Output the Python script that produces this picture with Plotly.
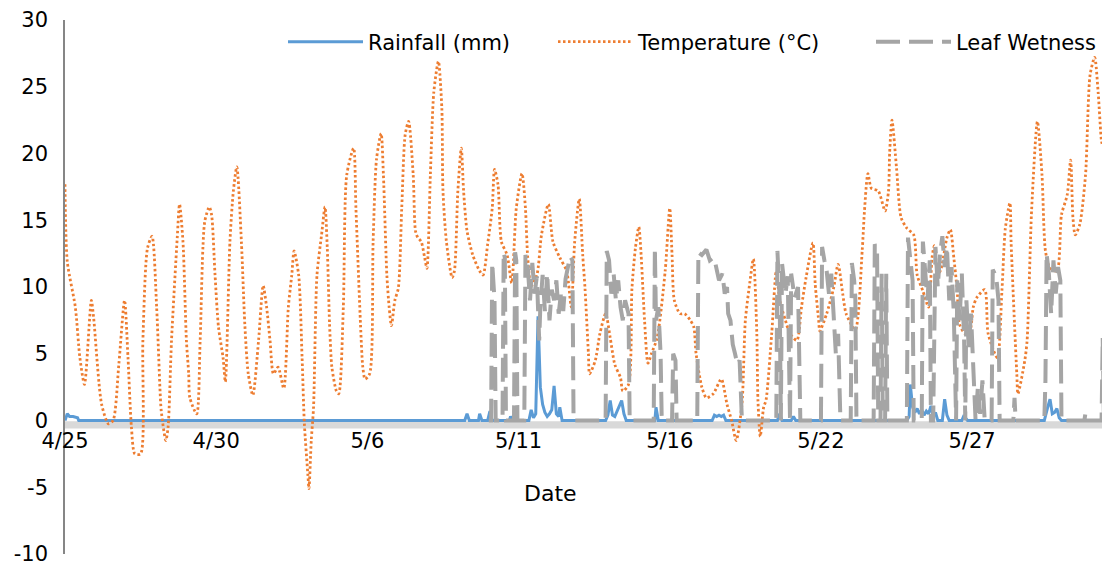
import plotly.graph_objects as go

# ---------------- data (x = hours since 4/25 00:00) ----------------
tick_hours = [0, 132, 264, 396, 528, 660, 792]
tick_labels = ["4/25", "4/30", "5/6", "5/11", "5/16", "5/22", "5/27"]
y_ticks = [-10, -5, 0, 5, 10, 15, 20, 25, 30]
y_tick_labels = ["-10", "-5", "0", "5", "10", "15", "20", "25", "30"]

temp_hours = [0,2,9,13,17,23,25,32,38,42,47,52,55,58,61,66,68,72,76,80,83,84,88,90,93,98,100,103,106,108,109,115,118,122,126,128,131,134,138,140,144,147,150,154,157,160,164,169,173,176,179,182,186,191,195,198,200,204,207,209,212,213,215,217,220,224,227,229,231,233,237,239,243,246,252,254,258,260,262,266,269,272,276,278,281,283,285,288,291,294,297,300,304,306,308,311,314,316,319,322,326,329,330,333,338,340,343,346,348,351,356,362,365,369,373,375,378,381,386,390,394,399,402,404,407,412,416,422,426,432,438,442,445,449,452,454,457,458,463,467,472,476,480,485,487,492,495,498,501,503,506,509,512,517,524,528,530,532,537,541,546,549,551,556,560,566,573,578,582,586,591,594,598,601,604,605,607,610,612,617,621,624,629,633,639,643,647,653,655,658,659,665,671,675,679,682,690,696,698,701,704,710,716,719,720,722,726,730,735,741,744,749,754,757,759,762,765,770,773,776,779,781,786,790,793,796,803,806,814,818,821,825,826,829,831,832,838,840,844,849,853,856,860,866,870,875,878,880,882,886,891,895,899,902,905,906]
temp_values = [17.7,11.9,8.5,4.7,2.7,9.0,7.7,1.2,-0.25,0,4.2,9.0,4.7,-0.5,-2.5,-2.5,6.0,12.9,13.8,8.5,2.2,0.75,-1.5,-0.5,6.0,13.7,16.2,13.4,6.0,3.5,1.7,0.5,6.0,14.9,16.0,15.4,10.9,7.0,4.7,2.9,13.4,17.2,19.0,13.4,7.2,3.5,1.9,6.0,10.1,8.5,6.0,3.5,4.0,2.4,8.5,10.9,12.7,10.9,4.7,-0.25,-4.0,-5.1,-1.5,1.0,10.9,13.9,16.0,12.9,7.2,4.0,2.2,2.0,8.5,18.4,20.4,15.9,7.2,4.0,3.1,3.5,13.4,19.6,21.5,18.4,10.9,8.5,7.1,9.0,9.9,15.9,21.4,22.4,18.4,14.2,13.7,13.4,12.2,11.4,18.4,24.6,26.9,23.4,17.2,13.4,10.7,11.2,17.2,20.4,17.2,14.2,12.4,11.2,10.9,13.2,15.9,18.8,17.7,13.4,12.4,10.3,15.9,18.5,15.9,12.2,10.1,10.9,13.9,16.2,13.4,12.2,11.2,8.5,13.4,16.6,12.4,9.9,5.0,3.5,4.5,6.5,8.0,6.2,4.2,3.2,2.2,2.7,9.9,12.9,14.5,12.4,7.5,4.3,5.0,6.2,11.2,15.9,12.4,9.0,8.0,8.0,7.5,7.0,5.0,2.5,1.7,2.0,3.1,1.2,0,-1.5,1.2,7.5,10.4,12.1,6.5,1.5,-1.2,1.0,1.5,6.5,11.2,9.0,7.5,6.5,6.0,8.5,10.7,13.3,10.2,7.5,6.7,8.0,9.9,11.7,9.5,8.0,6.8,12.7,15.7,18.5,17.4,17.2,15.7,17.2,20.1,22.5,18.9,15.2,14.4,13.9,10.9,9.7,8.5,12.2,13.1,10.9,11.4,13.7,14.3,12.2,9.7,7.2,6.5,6.7,8.5,9.2,9.8,6.5,4.7,9.7,14.4,16.3,13.4,7.2,3.5,2.0,4.5,6.0,15.9,22.4,18.4,12.7,11.4,11.2,15.4,16.9,19.5,15.2,13.9,14.7,18.4,25.9,27.2,24.6,20.9,20.6]

rain_hours = [0,2,4,7,11,12,349,351,353,361,362,364,369,371,373,388,389,391,
              405,407,409,411,413,415,417,419,421,423,425,427,429,431,432,434,
              472,474,476,478,480,482,484,486,488,490,515,516,518,
              565,567,569,571,573,575,577,622,624,626,634,636,638,
              735,737,738,740,742,744,746,748,750,752,754,756,758,760,762,
              766,768,770,772,783,785,786,788,
              855,858,860,862,864,866,868,870,908]
rain_values = [0,0.5,0.3,0.3,0.2,0,0,0.5,0,0,0.5,0,0,0.7,0,0,0.3,0,
               0,0.8,0.2,0.5,7.8,2.5,1.2,0.6,0.3,0.5,0.8,2.6,0.5,0.3,1.0,0,
               0,0.4,1.5,0.4,0.3,0.7,1.0,1.5,0.5,0,0,1.0,0,
               0,0.4,0.3,0.4,0.3,0.4,0,0,0.5,0,0,0.3,0,
               0,0.3,2.7,1.0,0.6,0.9,0.5,0.8,0.4,0.7,0.5,1.1,0.3,0.6,0,
               0,1.6,0.4,0,0,0.4,0.2,0,
               0,1.0,1.6,0.5,0.6,0.9,0.2,0,0]

wet_hours = [370,372,373,375,376,382,383,384,385,392,393,394,395,401,402,404,406,408,410,412,414,415,417,419,421,423,425,427,429,431,433,435,437,439,441,443,444,
             472,473,475,477,479,481,483,485,487,489,492,493,
             514,515,516,518,520,521,530,531,533,534,
             552,553,556,560,563,566,568,571,574,576,578,579,581,583,585,587,589,591,
             621,622,624,625,626,629,631,633,634,637,640,642,
             660,661,663,665,667,669,671,673,675,676,677,
             686,687,689,690,691,
             706,707,709,710,712,713,714,716,717,718,
             735,736,738,740,741,748,749,751,753,755,756,758,760,762,764,766,768,770,772,774,776,778,779,781,783,785,786,787,789,791,793,795,797,799,801,803,
             809,810,813,815,816,828,829,830,
             855,856,857,859,861,863,865,867,869,870,
             890,891,892,905,906,907]
wet_values = [0,0,11.8,9.0,0,0,12.6,12.2,0,0,12.6,12.0,0,0,12.4,11.5,9.0,11.8,9.5,10.8,6.0,8.5,10.9,8.2,11.0,7.5,9.8,9.0,10.5,8.0,9.5,8.2,10.6,11.5,12.3,12.0,0,
              0,12.7,12.0,9.5,11.0,9.0,10.5,8.5,7.5,9.0,8.0,0,
              0,12.9,7.5,8.5,5.0,0,0,5.0,4.5,0,
              0,12.6,12.4,12.8,12.0,12.2,11.7,10.5,11.0,9.5,10.0,8.0,7.5,5.7,5.0,4.2,4.5,0,
              0,12.7,9.0,0,11.8,9.5,10.8,0,11.0,9.2,10.0,0,
              0,13.0,12.0,11.2,9.5,11.0,8.0,5.0,6.5,3.7,0,
              0,11.8,10.5,9.2,0,
              0,13.2,12.8,0,0,11.0,0,0,11.0,0,
              0,13.7,12.0,10.5,0,0,13.4,11.0,9.0,12.0,0,0,13.0,10.0,12.5,13.8,11.5,13.0,9.0,11.5,8.0,0,10.5,7.5,11.0,6.0,0,9.0,5.5,8.0,4.5,0,2.5,0.5,3.0,0,
              0,11.3,10.8,9.0,0,0,1.7,0,
              0,3.0,12.5,11.0,8.0,12.0,9.5,11.5,10.5,0,
              0,0.6,0,0,6.2,0.5]

FONT = "DejaVu Sans"
OFF = 8  # default page margin of the html body
FIG_W, FIG_H = 1110 - OFF, 569 - OFF
PLOT_L, PLOT_W, PLOT_T, PLOT_H = 65 - OFF, 1040, 20 - OFF, 534


def px_to_paper_x(px):
    return (px - OFF - PLOT_L) / PLOT_W


def px_to_paper_y(py):
    return (PLOT_T + PLOT_H - (py - OFF)) / PLOT_H


fig = go.Figure()
fig.add_trace(go.Scatter(x=rain_hours, y=rain_values, mode="lines", name="Rainfall (mm)",
                         legend="legend",
                         line=dict(color="#5b9bd5", width=3)))
fig.add_trace(go.Scatter(x=temp_hours, y=temp_values, mode="lines", name="Temperature (°C)",
                         legend="legend2",
                         line=dict(color="#ed7d31", width=2.8, dash="2.5px,2.5px",
                                   shape="spline", smoothing=0.7)))
fig.add_trace(go.Scatter(x=wet_hours, y=wet_values, mode="lines", name="Leaf Wetness",
                         legend="legend3",
                         line=dict(color="#a5a5a5", width=4, dash="24px,9px")))

# light grey horizontal axis band at zero
fig.add_shape(type="rect", xref="x", yref="y", x0=0, x1=908, y0=-0.6, y1=-0.05,
              fillcolor="#d9d9d9", line=dict(width=0), layer="below")

fig.add_annotation(text="Date", x=px_to_paper_x(550), y=px_to_paper_y(493),
                   xref="paper", yref="paper", showarrow=False,
                   xanchor="center", yanchor="middle",
                   font=dict(family=FONT, size=22, color="#000000"))

legend_common = dict(orientation="h", xanchor="left", yanchor="middle",
                     y=px_to_paper_y(42), itemwidth=75, bgcolor="rgba(0,0,0,0)",
                     font=dict(family=FONT, size=21, color="#000000"))

fig.update_layout(
    width=FIG_W, height=FIG_H,
    margin=dict(l=PLOT_L, r=FIG_W - PLOT_L - PLOT_W, t=PLOT_T, b=FIG_H - PLOT_T - PLOT_H,
                autoexpand=False),
    paper_bgcolor="white", plot_bgcolor="white",
    font=dict(family=FONT, size=21, color="#000000"),
    showlegend=True,
    legend=dict(x=px_to_paper_x(283), **legend_common),
    legend2=dict(x=px_to_paper_x(553), **legend_common),
    legend3=dict(x=px_to_paper_x(871), **legend_common),
    xaxis=dict(range=[0, 908], tickvals=tick_hours, ticktext=tick_labels,
               showgrid=False, zeroline=False, showline=False, ticks="",
               anchor="free", position=0.25, ticklabelstandoff=5, automargin=False,
               tickfont=dict(family=FONT, size=21, color="#000000")),
    yaxis=dict(range=[-10, 30], tickvals=y_ticks, ticktext=y_tick_labels,
               showgrid=False, zeroline=False, showline=True, automargin=False,
               linecolor="#868686", linewidth=1.5, ticks="", ticklabelstandoff=11,
               tickfont=dict(family=FONT, size=21, color="#000000")),
)

fig.write_html("out.html")
